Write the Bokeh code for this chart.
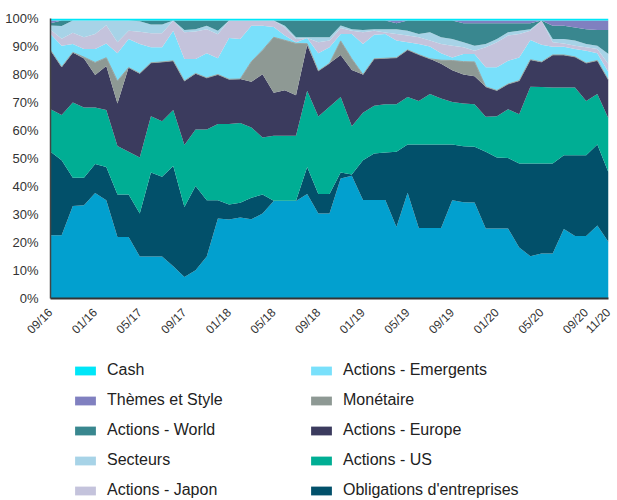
from math import pi
import pandas as pd
from bokeh.plotting import figure
from bokeh.layouts import column
from bokeh.models import ColumnDataSource, Range1d, Legend, LegendItem, FixedTicker
from bokeh.embed import file_html
from bokeh.resources import INLINE

# ---------------- data (percent of portfolio, monthly) ----------------
months = ["2016-09", "2016-10", "2016-11", "2016-12",
          "2017-01", "2017-02", "2017-03", "2017-04", "2017-05", "2017-06",
          "2017-07", "2017-08", "2017-09", "2017-10", "2017-11", "2017-12",
          "2018-01", "2018-02", "2018-03", "2018-04", "2018-05", "2018-06",
          "2018-07", "2018-08", "2018-09", "2018-10", "2018-11", "2018-12",
          "2019-01", "2019-02", "2019-03", "2019-04", "2019-05", "2019-06",
          "2019-07", "2019-08", "2019-09", "2019-10", "2019-11", "2019-12",
          "2020-01", "2020-02", "2020-03", "2020-04", "2020-05", "2020-06",
          "2020-07", "2020-08", "2020-09", "2020-10", "2020-11"]

tick_months = ["2016-09", "2017-01", "2017-05", "2017-09", "2018-01", "2018-05",
               "2018-09", "2019-01", "2019-05", "2019-09", "2020-01", "2020-05",
               "2020-09", "2020-11"]
tick_labels = ["09/16", "01/16", "05/17", "09/17", "01/18", "05/18", "09/18",
               "01/19", "05/19", "09/19", "01/20", "05/20", "09/20", "11/20"]

obligations_etat = [22.6, 22.6, 33.0, 33.3, 37.7, 35.1, 22.0, 22.0, 15.0, 15.0,
                    15.0, 11.5, 7.7, 10.1, 15.0, 28.6, 28.2, 28.9, 28.3, 30.4,
                    34.8, 34.8, 34.8, 37.3, 30.4, 30.4, 42.9, 43.8, 35.2, 35.2,
                    35.2, 25.5, 37.8, 25.2, 25.2, 25.2, 35.1, 34.4, 34.3, 25.0,
                    25.0, 25.0, 18.2, 15.1, 16.1, 16.1, 24.8, 22.3, 22.3, 26.1, 20.2]
obligations_entreprises = [29.8, 26.8, 10.1, 9.8, 10.3, 11.9, 15.1, 15.1, 15.4, 30.0,
                           28.5, 35.8, 25.0, 30.1, 20.1, 6.5, 5.4, 5.3, 7.7, 6.7,
                           0.1, 0.1, 0.1, 9.7, 6.9, 6.9, 2.1, 0.5, 14.2, 16.6,
                           16.9, 26.9, 17.2, 29.8, 29.8, 29.8, 19.9, 20.0, 19.9, 27.4,
                           25.4, 25.2, 30.0, 33.1, 32.1, 32.1, 26.4, 28.9, 28.9, 28.9, 24.8]
actions_us = [15.2, 16.1, 26.9, 25.1, 20.2, 20.3, 17.4, 15.3, 20.0, 20.1,
              19.8, 20.0, 22.1, 20.2, 25.3, 27.2, 28.7, 28.5, 25.1, 20.4,
              23.2, 23.2, 23.2, 27.2, 27.7, 31.2, 27.0, 17.2, 16.9, 17.0,
              17.3, 17.0, 17.0, 15.5, 18.0, 16.4, 15.2, 15.2, 15.2, 12.5,
              14.7, 17.4, 17.6, 27.4, 27.3, 27.2, 24.2, 24.2, 19.3, 18.0, 19.3]
actions_europe = [21.1, 17.2, 17.9, 17.5, 11.6, 15.7, 15.1, 30.1, 30.0, 19.1,
                  21.2, 17.6, 22.9, 20.0, 18.4, 17.7, 16.0, 15.7, 16.3, 22.6,
                  15.4, 16.3, 14.5, 16.3, 16.3, 15.5, 15.0, 20.1, 13.7, 16.8,
                  16.4, 16.6, 16.8, 16.6, 12.6, 12.4, 11.3, 10.4, 10.0, 10.7,
                  9.2, 9.0, 12.0, 9.7, 9.0, 11.6, 11.6, 10.9, 13.6, 12.0, 13.7]
monetaire = [0.0, 0.0, 0.0, 0.5, 4.5, 3.0, 8.1, 0.0, 0.0, 0.0,
             0.0, 0.0, 0.0, 0.0, 0.0, 0.0, 0.0, 0.0, 7.2, 8.6,
             19.8, 17.8, 18.5, 0.5, 0.0, 0.0, 5.0, 4.0, 0.0, 0.0,
             0.0, 0.0, 0.0, 0.0, 0.0, 1.3, 3.5, 4.6, 5.1, 0.0,
             0.0, 0.0, 0.0, 0.0, 0.0, 0.0, 0.0, 0.0, 0.0, 0.0, 0.0]
actions_emergents = [5.8, 7.6, 3.0, 2.9, 4.8, 5.1, 9.9, 10.2, 10.5, 5.5,
                     5.2, 10.7, 7.8, 5.1, 8.8, 5.8, 14.7, 14.3, 12.8, 8.7,
                     3.7, 1.7, 0.4, 2.0, 6.3, 5.7, 2.5, 8.9, 10.9, 8.6,
                     8.7, 6.1, 2.7, 3.8, 4.4, 2.5, 1.1, 2.7, 2.8, 7.0,
                     8.3, 8.3, 8.3, 7.0, 6.1, 2.9, 2.9, 2.8, 4.4, 2.6, 2.8]
actions_japon = [1.5, 2.5, 4.0, 4.2, 5.4, 6.5, 3.9, 2.9, 4.4, 5.0,
                 5.0, 3.7, 9.6, 9.9, 8.6, 8.6, 6.3, 6.6, 1.9, 1.9,
                 2.3, 2.9, 1.2, 0.0, 3.9, 2.4, 2.1, 1.1, 4.2, 1.4,
                 0.5, 2.4, 2.4, 2.4, 2.1, 3.3, 4.2, 2.4, 1.2, 7.1,
                 8.9, 9.0, 8.4, 3.3, 8.7, 1.6, 1.2, 1.2, 1.2, 1.5, 2.9]
secteurs = [1.5, 4.5, 4.4, 6.0, 4.8, 1.7, 7.8, 3.7, 3.7, 3.2,
            3.2, 0.0, 0.8, 0.8, 1.2, 1.2, 0.0, 0.0, 0.0, 0.0,
            0.0, 0.6, 0.6, 0.3, 1.8, 1.2, 0.9, 0.6, 0.8, 0.6,
            1.2, 1.7, 1.7, 1.2, 3.0, 2.4, 2.4, 1.8, 1.8, 1.2,
            1.2, 1.2, 1.1, 0.6, 0.0, 1.2, 1.6, 1.8, 1.2, 1.2, 3.6]
actions_world = [0.8, 2.0, 0.0, 0.0, 0.0, 0.0, 0.0, 0.0, 0.3, 1.4,
                 1.4, 0.0, 3.4, 3.1, 1.9, 3.7, 0.0, 0.0, 0.0, 0.0,
                 0.0, 1.9, 6.0, 6.0, 6.0, 6.0, 1.8, 3.1, 3.4, 3.1,
                 3.1, 2.1, 3.7, 4.8, 4.2, 6.0, 6.6, 6.8, 8.0, 7.4,
                 5.6, 3.2, 2.7, 2.1, 0.0, 4.7, 4.7, 4.7, 5.3, 5.6, 8.6]
themes_style = [1.0, 0.0, 0.0, 0.0, 0.0, 0.0, 0.0, 0.0, 0.0, 0.0,
                0.0, 0.0, 0.0, 0.0, 0.0, 0.0, 0.0, 0.0, 0.0, 0.0,
                0.0, 0.0, 0.0, 0.0, 0.0, 0.0, 0.0, 0.0, 0.0, 0.0,
                0.0, 1.0, 0.0, 0.0, 0.0, 0.0, 0.0, 1.0, 1.0, 1.0,
                1.0, 1.0, 1.0, 1.0, 0.0, 1.9, 1.9, 2.5, 3.1, 3.4, 3.4]
cash = [0.7, 0.7, 0.7, 0.7, 0.7, 0.7, 0.7, 0.7, 0.7, 0.7,
        0.7, 0.7, 0.7, 0.7, 0.7, 0.7, 0.7, 0.7, 0.7, 0.7,
        0.7, 0.7, 0.7, 0.7, 0.7, 0.7, 0.7, 0.7, 0.7, 0.7,
        0.7, 0.7, 0.7, 0.7, 0.7, 0.7, 0.7, 0.7, 0.7, 0.7,
        0.7, 0.7, 0.7, 0.7, 0.7, 0.7, 0.7, 0.7, 0.7, 0.7, 0.7]

# stacking order: bottom -> top
series_names = ["Obligations d'État", "Obligations d'entreprises", "Actions - US",
                "Actions - Europe", "Monétaire", "Actions - Emergents",
                "Actions - Japon", "Secteurs", "Actions - World",
                "Thèmes et Style", "Cash"]
series_values = [obligations_etat, obligations_entreprises, actions_us,
                 actions_europe, monetaire, actions_emergents, actions_japon,
                 secteurs, actions_world, themes_style, cash]
series_colors = ["#02A0CF", "#02506A", "#00AE94", "#3B3B5E", "#8E9994",
                 "#79E0FB", "#C4C3DC", "#A7D3E7", "#39878F", "#8080C0", "#00E6F8"]

legend_col1 = ["Cash", "Thèmes et Style", "Actions - World", "Secteurs",
               "Actions - Japon"]
legend_col2 = ["Actions - Emergents", "Monétaire", "Actions - Europe",
               "Actions - US", "Obligations d'entreprises"]

# ---------------- chart ----------------
df = pd.DataFrame({n: v for n, v in zip(series_names, series_values)})
df["x"] = range(len(months))
df["month"] = months
df["monetaire_top"] = df[series_names[:5]].sum(axis=1)
source = ColumnDataSource(df)

FONT = "Liberation Sans"

p = figure(width=617, height=345, output_backend="svg", toolbar_location=None,
           x_range=Range1d(0, len(months) - 1), y_range=Range1d(0, 100),
           min_border_left=50, min_border_right=9, min_border_top=18,
           min_border_bottom=47)
p.outline_line_color = None
p.grid.visible = False
p.border_fill_color = "white"

p.varea_stack(stackers=series_names, x="x", color=series_colors, source=source)
p.line(x="x", y="monetaire_top", source=source, line_color="#9AA39F",
       line_width=1)

p.yaxis.ticker = FixedTicker(ticks=list(range(0, 101, 10)))
p.yaxis.major_label_overrides = {t: f"{t}%" for t in range(0, 101, 10)}
p.yaxis.major_tick_line_color = None
p.yaxis.minor_tick_line_color = None
p.yaxis.axis_line_color = "#444444"
p.yaxis.axis_line_width = 1.5
p.yaxis.major_label_text_font = FONT
p.yaxis.major_label_text_font_size = "13px"
p.yaxis.major_label_text_color = "#333333"
p.yaxis.major_label_standoff = 6

tick_pos = [months.index(m) for m in tick_months]
p.xaxis.ticker = FixedTicker(ticks=tick_pos)
p.xaxis.major_label_overrides = {t: lab for t, lab in zip(tick_pos, tick_labels)}
p.xaxis.major_label_orientation = pi / 4
p.xaxis.major_tick_line_color = None
p.xaxis.minor_tick_line_color = None
p.xaxis.axis_line_color = "#333333"
p.xaxis.axis_line_width = 2
p.xaxis.major_label_text_font = FONT
p.xaxis.major_label_text_font_size = "12px"
p.xaxis.major_label_text_color = "#333333"
p.xaxis.major_label_standoff = 6

# ---------------- legend (own panel under the chart) ----------------
# the same stacked series are attached here, outside the visible range,
# so the legend only shows their swatches and names
lf = figure(width=617, height=155, output_backend="svg", toolbar_location=None,
            x_range=Range1d(-30, -20), y_range=Range1d(-30, -20),
            min_border_left=50, min_border_right=9, min_border_top=0,
            min_border_bottom=0)
lf.axis.visible = False
lf.grid.visible = False
lf.outline_line_color = None
lf.border_fill_color = "white"

swatches = lf.varea_stack(stackers=series_names, x="x", color=series_colors,
                          source=source)
swatch = dict(zip(series_names, swatches))


def make_legend(names, vx):
    items = [LegendItem(label=n, renderers=[swatch[n]]) for n in names]
    lg = Legend(items=items, location=(vx, 1), orientation="vertical",
                glyph_width=26, glyph_height=11, label_standoff=9, spacing=12,
                padding=0, margin=0, border_line_color=None,
                background_fill_alpha=0, label_text_font=FONT,
                label_text_font_size="16px", label_text_color="#222222")
    lf.add_layout(lg)


make_legend(legend_col1, 22)
make_legend(legend_col2, 258)

open("out.html", "w").write(file_html(column(p, lf, spacing=0), INLINE))
